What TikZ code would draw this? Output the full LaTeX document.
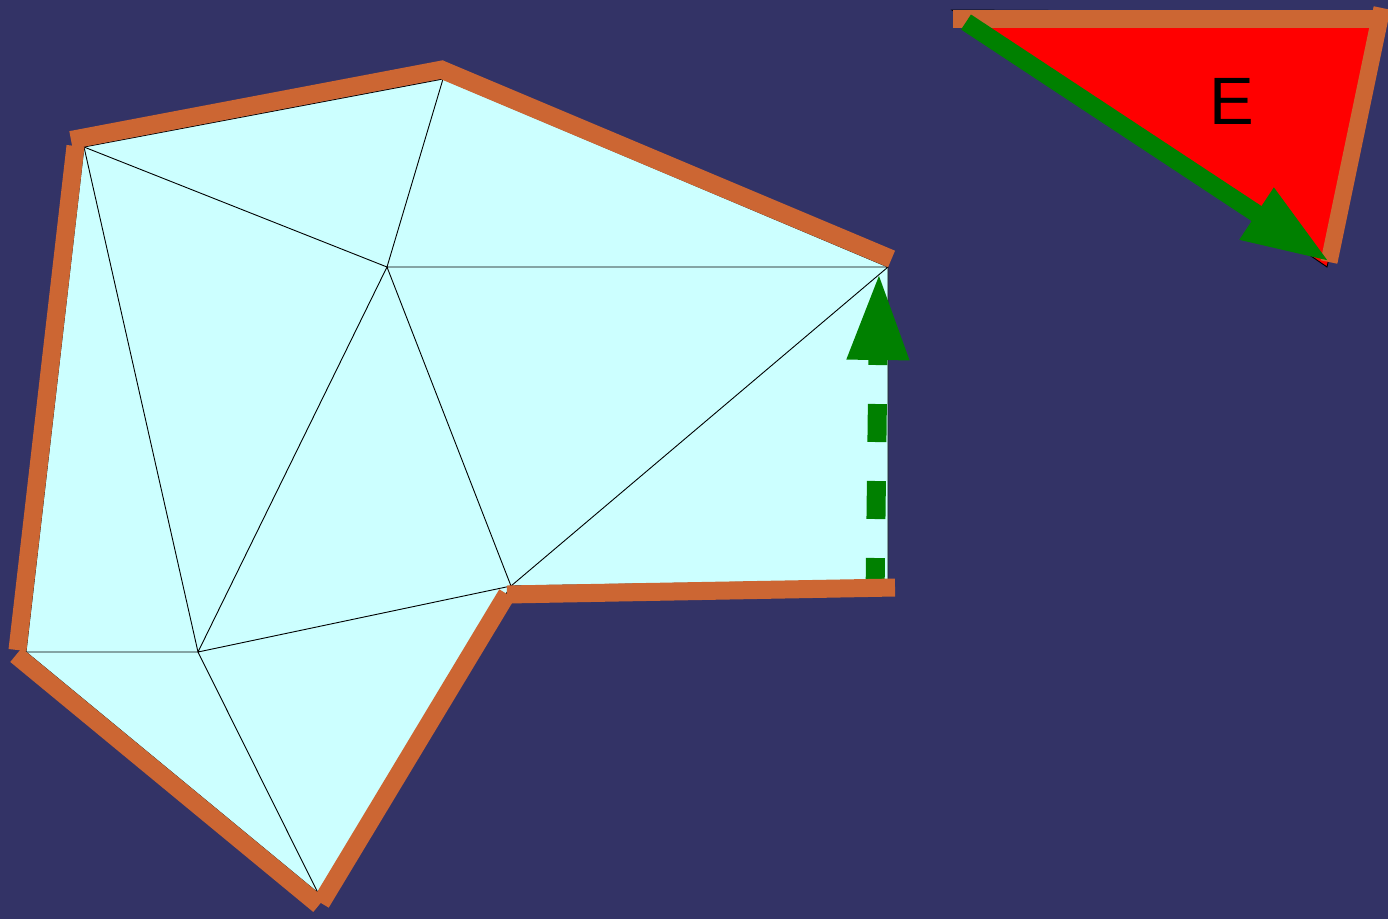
\documentclass[tikz,border=0pt]{standalone}
\usepackage{fontspec}
\setmainfont{Liberation Sans}
\usetikzlibrary{arrows.meta}
\definecolor{bgnavy}{HTML}{333366}
\definecolor{meshfill}{HTML}{CCFFFF}
\definecolor{rimorange}{HTML}{CC6633}
\definecolor{arrowgreen}{HTML}{008000}
\definecolor{trired}{HTML}{FF0000}
\begin{document}
\begin{tikzpicture}[x=1pt,y=-1pt,
  meshline/.style={line width=0.9pt,black},
  rim/.style={line width=18pt,rimorange,line cap=butt},
  bigarrow/.style={line width=19pt,arrowgreen,-{Triangle[length=88pt,width=57pt]}},
  label/.style={font=\fontsize{67}{67}\selectfont,text=black,inner sep=0pt}
]
\fill[bgnavy] (0,0) rectangle (1388,919);
\useasboundingbox (0,0) rectangle (1388,919);

% mesh vertices
\coordinate (A) at (84,147);
\coordinate (B) at (443,79);
\coordinate (C) at (888,267);
\coordinate (D) at (387,267);
\coordinate (E) at (888,580);
\coordinate (F) at (511,586);
\coordinate (G) at (198,652);
\coordinate (H) at (26,652);
\coordinate (I) at (318,893);

% mesh
\fill[meshfill] (A) -- (B) -- (C) -- (E) -- (F) -- (I) -- (H) -- cycle;
\draw[meshline] (A) -- (B) -- (C) -- (E) -- (F) -- (I) -- (H) -- cycle;
\draw[meshline] (A) -- (D) (B) -- (D) (D) -- (C) (A) -- (G) (D) -- (G)
  (D) -- (F) (C) -- (F) (G) -- (F) (G) -- (H) (G) -- (I);

% dashed green arrow
\coordinate (dstart) at (875,596);
\coordinate (dend) at (879,272);
\draw[bigarrow,dash pattern=on 38pt off 39pt] (dstart) -- (dend);

% orange rim strips
\coordinate (s1a) at (71,140);   \coordinate (s1b) at (445,69);
\coordinate (s2a) at (440,69);   \coordinate (s2b) at (891.5,259);
\coordinate (s3a) at (895,587.5);\coordinate (s3b) at (507,594.5);
\coordinate (s4a) at (507,594);  \coordinate (s4b) at (321,903);
\coordinate (s5a) at (319,905);  \coordinate (s5b) at (16,655);
\coordinate (s6a) at (17.5,650); \coordinate (s6b) at (75.5,146);
\draw[rim] (s1a) -- (s1b);
\draw[rim] (s2a) -- (s2b);
\draw[rim] (s3a) -- (s3b);
\draw[rim] (s4a) -- (s4b);
\draw[rim] (s5a) -- (s5b);
\draw[rim] (s6a) -- (s6b);

% top-right triangle
\coordinate (P1) at (952,10);
\coordinate (P2) at (1383,12);
\coordinate (P3) at (1327,267);
\fill[trired] (P1) -- (P2) -- (P3) -- cycle;
\draw[meshline] (P1) -- (P2) -- (P3) -- cycle;
\coordinate (t1a) at (953,19);   \coordinate (t1b) at (1383,19);
\coordinate (t2a) at (1382,8);   \coordinate (t2b) at (1329,262);
\draw[rim] (t1a) -- (t1b);
\draw[rim,line width=17pt] (t2a) -- (t2b);
\node[label] (lblE) at (1232,101) {E};
\coordinate (gstart) at (966,22);
\coordinate (gend) at (1330,262);
\draw[bigarrow,line width=18pt] (gstart) -- (gend);
\end{tikzpicture}
\end{document}
